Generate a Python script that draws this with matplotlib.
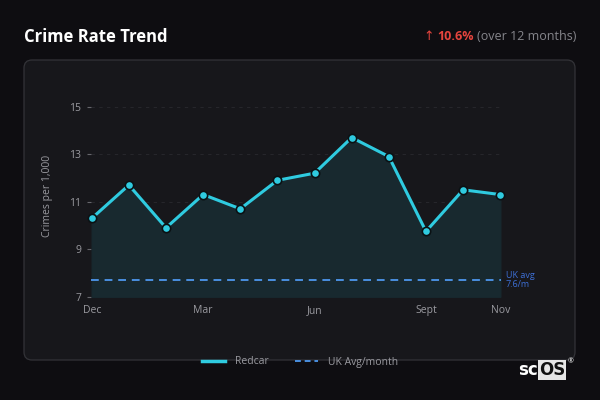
import matplotlib.pyplot as plt
from matplotlib.patches import FancyBboxPatch
from matplotlib.lines import Line2D

# data
months = ["Dec", "Jan", "Feb", "Mar", "Apr", "May", "Jun", "Jul", "Aug", "Sept", "Oct", "Nov"]
redcar = [10.3, 11.7, 9.9, 11.3, 10.7, 11.9, 12.2, 13.7, 12.9, 9.75, 11.5, 11.3]
uk_avg = 7.7
shown_months = ["Dec", "Mar", "Jun", "Sept", "Nov"]
y_ticks = [7, 9, 11, 13, 15]

plt.rcParams['font.family'] = ['Open Sans', 'DejaVu Sans']

bg = "#0e0d11"
card = "#17171b"
cyan = "#2fcbe0"
blue = "#4a8fe0"
red = "#e5443d"

fig = plt.figure(figsize=(6, 4), dpi=100, facecolor=bg)

# card behind the chart
card_ax = fig.add_axes([0, 0, 1, 1], zorder=-1)
card_ax.set_xlim(0, 600)
card_ax.set_ylim(400, 0)
card_ax.axis("off")
card_ax.add_patch(FancyBboxPatch((24, 60), 551, 300, boxstyle="round,pad=0,rounding_size=8",
                                 facecolor=card, edgecolor="#333338", linewidth=0.9))

fig.text(24 / 600, 1 - 37 / 400, "Crime Rate Trend", color="white", fontsize=12,
         fontweight="bold", va="center", ha="left")

# right-hand change note, placed piece by piece from the right
renderer = fig.canvas.get_renderer()
xr = 576
for s, col, kw in [("(over 12 months)", "#85858b", {}),
                   ("10.6%", red, {"fontweight": "bold"}),
                   ("↑", red, {"family": ["DejaVu Sans"]})]:
    t = fig.text(xr / 600, 1 - 37 / 400, s, color=col, fontsize=9, va="center", ha="right", **kw)
    w = t.get_window_extent(renderer).width
    xr -= w + 3

ax = fig.add_axes([91 / 600, 1 - 296.7 / 400, 410 / 600, (296.7 - 94.8) / 400])
ax.set_facecolor(card)
x = list(range(len(months)))
ax.fill_between(x, redcar, 7, color="#18292f", zorder=1)
ax.plot(x, redcar, color=cyan, linewidth=2.2, marker="o", markersize=6,
        markerfacecolor=cyan, markeredgecolor="#0b1114", markeredgewidth=1.2,
        zorder=4, clip_on=False)
ax.axhline(uk_avg, color=blue, linewidth=1.4, linestyle=(0, (4, 3)), zorder=3)
ax.text(11.15, uk_avg, "UK avg\n7.6/m", color="#3d6fd6", fontsize=6.5,
        va="center", ha="left", linespacing=1.1)

ax.set_xlim(-0.02, 11.02)
ax.set_ylim(7, 15.5)
ax.set_yticks(y_ticks)
ax.set_xticks([months.index(m) for m in shown_months])
ax.set_xticklabels(shown_months)
ax.grid(axis="y", color="#26262b", linestyle=(0, (3, 4)), linewidth=0.8)
ax.set_axisbelow(True)
for s in ax.spines.values():
    s.set_visible(False)
ax.tick_params(axis="y", colors="#9a9aa0", labelsize=7.5, length=3, pad=4, color="#66666c")
ax.tick_params(axis="x", colors="#9a9aa0", labelsize=7.5, length=0, pad=6)
ax.set_ylabel("Crimes per 1,000", color="#9a9aa0", fontsize=7.5, labelpad=12)

handles = [Line2D([], [], color=cyan, linewidth=2.5),
           Line2D([], [], color=blue, linewidth=1.4, linestyle=(0, (3, 2)))]
fig.legend(handles, ["Redcar", "UK Avg/month"], loc="center", bbox_to_anchor=(300 / 600, 1 - 362 / 400),
           ncol=2, frameon=False, fontsize=7.5, labelcolor="#9a9aa0", handlelength=2.2,
           columnspacing=2.5, handletextpad=1)

# logo
fig.text(538 / 600, 1 - 370 / 400, "sc", color="white", fontsize=12, fontweight="bold",
         ha="right", va="center", family=["DejaVu Sans"])
fig.text(539 / 600, 1 - 370 / 400, "OS", color="#111111", fontsize=12, fontweight="bold",
         ha="left", va="center", family=["DejaVu Sans"],
         bbox=dict(boxstyle="square,pad=0.05", facecolor="#e6e6e6", edgecolor="none"))
fig.text(571 / 600, 1 - 362 / 400, "®", color="white", fontsize=5, ha="center", va="center")

fig.savefig("out.png", dpi=100, facecolor=bg)
